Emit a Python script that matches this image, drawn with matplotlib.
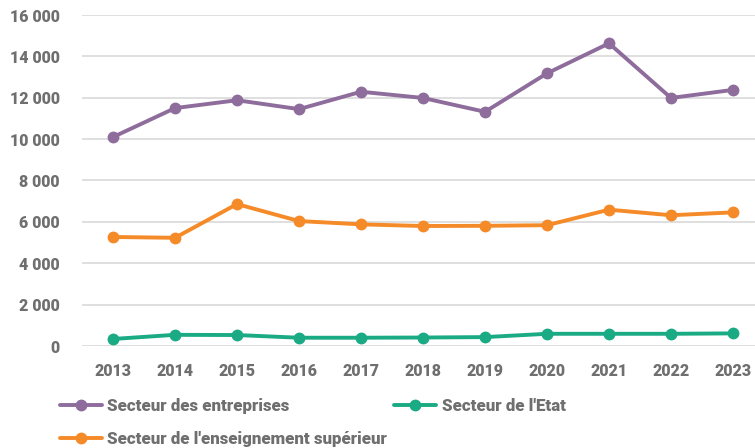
import matplotlib
matplotlib.use("Agg")
import matplotlib.pyplot as plt
from matplotlib.ticker import FuncFormatter

years = ["2013", "2014", "2015", "2016", "2017", "2018", "2019", "2020", "2021", "2022", "2023"]
entreprises = [10100, 11500, 11880, 11450, 12290, 11990, 11320, 13180, 14630, 11990, 12380]
etat = [340, 540, 530, 400, 400, 410, 430, 590, 590, 590, 610]
enseignement = [5270, 5230, 6860, 6040, 5880, 5800, 5810, 5840, 6590, 6320, 6460]

names = ["Secteur des entreprises", "Secteur de l'Etat", "Secteur de l'enseignement supérieur"]
colors = ["#8E6C9B", "#1AAA84", "#F58A28"]

plt.rcParams["font.family"] = ["Roboto", "DejaVu Sans"]
W = "heavy"

fig = plt.figure(figsize=(7.55, 4.48), dpi=100)
ax = fig.add_axes([82/755, 1-346/448, (755-82)/755, (346-15)/448])

x = list(range(len(years)))
lines = {}
for name, vals, c in zip(names, [entreprises, etat, enseignement], colors):
    ln, = ax.plot(x, vals, color=c, lw=2.8, marker="o", ms=7.5, solid_capstyle="round", label=name, zorder=3)
    lines[name] = ln

ax.set_ylim(0, 16000)
ax.set_yticks(range(0, 16001, 2000))
ax.yaxis.set_major_formatter(FuncFormatter(lambda v, p: f"{int(v):,}".replace(",", " ")))
ax.set_xlim(-0.5, (755-113)/62)
ax.set_xticks(x)
ax.set_xticklabels(years)
ax.grid(axis="y", color="#d9d9d9", lw=1.2)
ax.set_axisbelow(True)
for s in ax.spines.values():
    s.set_visible(False)
ax.tick_params(axis="both", length=0, labelsize=11.5, labelcolor="#6f6f6f")
ax.tick_params(axis="y", pad=16)
ax.tick_params(axis="x", pad=12)
for t in ax.get_xticklabels() + ax.get_yticklabels():
    t.set_fontweight(W)

order = [names[0], names[2], names[1]]
leg = fig.legend([lines[n] for n in order], order, ncol=2, loc="upper left",
                 bbox_to_anchor=(60/755, 1-398/448), frameon=False,
                 prop={"size": 12.2, "weight": W},
                 handlelength=2.5, handletextpad=0.3, columnspacing=0.4, labelspacing=0.98,
                 borderaxespad=0, borderpad=0)
for t in leg.get_texts():
    t.set_color("#6f6f6f")

fig.savefig("out.png", dpi=100)
